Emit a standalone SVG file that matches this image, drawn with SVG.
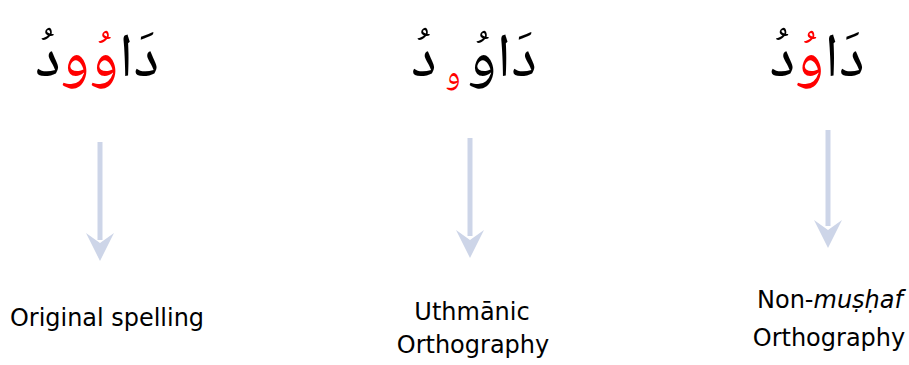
<svg xmlns="http://www.w3.org/2000/svg" width="909" height="365" viewBox="0 0 909 365">
<style>
.ar{font-family:"Noto Naskh Arabic","Noto Sans Arabic","DejaVu Sans",sans-serif;font-size:62px;fill:#000}
.mid{text-anchor:middle}
.red{fill:#ff0000}
.small{font-size:32px}
.lbl{font-family:"DejaVu Sans",sans-serif;font-size:24px;fill:#000;text-anchor:middle}
.shaft{stroke:#cdd5e8;stroke-width:5;fill:none}
.head{fill:#cdd5e8}
</style>
<rect width="909" height="365" fill="#fff"/>
<g id="word-original"><text class="ar mid" x="97" y="76" direction="rtl">دَا<tspan class="red">وُو</tspan>دُ</text></g>
<g id="word-uthmanic">
<text class="ar" x="537" y="76" text-anchor="end" direction="ltr">دَاوُ</text>
<text class="ar red small" x="453" y="84" text-anchor="middle">و</text>
<text class="ar" x="411" y="76" text-anchor="start" direction="ltr">دُ</text>
</g>
<g id="word-nonmushaf"><text class="ar mid" x="817" y="76" direction="rtl">دَا<tspan class="red">وُ</tspan>دُ</text></g>
<g id="connectors">
<line class="shaft" x1="100" y1="142" x2="100" y2="240"/>
<polygon class="head" points="86,233 100,261 114,233 100,243"/>
<line class="shaft" x1="470" y1="138" x2="470" y2="236"/>
<polygon class="head" points="456,230 470,258 484,230 470,240"/>
<line class="shaft" x1="828" y1="130" x2="828" y2="226"/>
<polygon class="head" points="814,220 828,248 842,220 828,230"/>
</g>
<g id="label-original"><text class="lbl" x="107" y="326" textLength="194" lengthAdjust="spacingAndGlyphs">Original spelling</text></g>
<g id="label-uthmanic"><text class="lbl" x="472" y="320">Uthmānic</text><text class="lbl" x="473" y="353">Orthography</text></g>
<g id="label-nonmushaf"><text class="lbl" x="830" y="308">Non-<tspan font-style="italic">muṣḥaf</tspan></text><text class="lbl" x="829" y="346">Orthography</text></g>
</svg>
